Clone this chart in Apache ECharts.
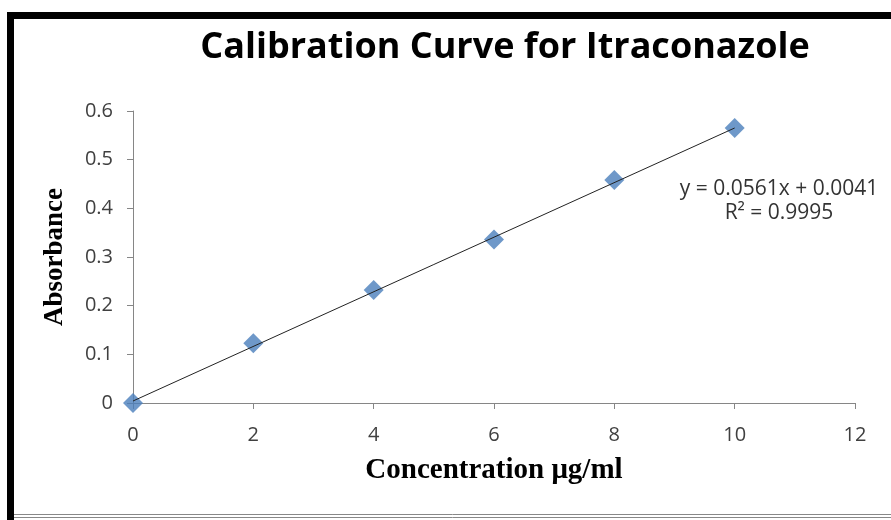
<!DOCTYPE html>
<html>
<head>
<meta charset="utf-8">
<script src="https://cdn.jsdelivr.net/npm/echarts@6/dist/echarts.min.js"></script>
<style>
  html, body { margin: 0; padding: 0; background: #fff; }
  #chart { width: 891px; height: 520px; }
</style>
</head>
<body>
<div id="chart"></div>
<script>
// measured points
const concentration = [0, 2, 4, 6, 8, 10];
const absorbance = [0, 0.123, 0.232, 0.336, 0.458, 0.565];
// linear trendline endpoints (y = 0.0561x + 0.0041)
const trendX = [0, 10];
const trendY = [0.0041, 0.5651];
const equationLines = ['y = 0.0561x + 0.0041', 'R² = 0.9995'];

const chart = echarts.init(document.getElementById('chart'));

const axisGray = '#868686';
const labelColor = '#404040';

const option = {
  backgroundColor: '#fff',
  animation: false,
  title: {
    text: 'Calibration Curve for Itraconazole',
    left: 500,
    textAlign: 'center',
    top: 25,
    textStyle: { fontFamily: 'Open Sans', fontWeight: 'bold', fontSize: 36, color: '#000' }
  },
  grid: { left: 133, right: 36, top: 111, bottom: 117 },
  xAxis: {
    type: 'value',
    min: 0, max: 12, interval: 2,
    name: 'Concentration μg/ml',
    nameLocation: 'middle',
    nameGap: 53,
    nameTextStyle: { fontFamily: 'Liberation Serif', fontWeight: 'bold', fontSize: 29, color: '#000' },
    axisLine: { lineStyle: { color: axisGray } },
    axisTick: { show: true, length: 6, lineStyle: { color: axisGray } },
    axisLabel: { color: labelColor, fontSize: 20, fontFamily: 'Open Sans', margin: 22 },
    splitLine: { show: false }
  },
  yAxis: {
    type: 'value',
    min: 0, max: 0.6, interval: 0.1,
    name: 'Absorbance',
    nameLocation: 'middle',
    nameGap: 64,
    nameTextStyle: { fontFamily: 'Liberation Serif', fontWeight: 'bold', fontSize: 27, color: '#000' },
    axisLine: { show: true, lineStyle: { color: axisGray } },
    axisTick: { show: true, length: 6, lineStyle: { color: axisGray } },
    axisLabel: { color: labelColor, fontSize: 20, fontFamily: 'Open Sans', margin: 20 },
    splitLine: { show: false }
  },
  series: [
    {
      name: 'Trendline',
      type: 'line',
      data: trendX.map((x, i) => [x, trendY[i]]),
      showSymbol: false,
      lineStyle: { color: '#222', width: 1 },
      z: 3
    },
    {
      name: 'Absorbance',
      type: 'scatter',
      data: concentration.map((x, i) => [x, absorbance[i]]),
      symbol: 'diamond',
      symbolSize: [20, 20],
      itemStyle: { color: '#4a7ebb' },
      z: 2
    }
  ],
  graphic: [
    // outer chart frame (black top and left, gray bottom)
    { type: 'rect', shape: { x: 7, y: 12, width: 884, height: 7 }, style: { fill: '#000' } },
    { type: 'rect', shape: { x: 7, y: 12, width: 7, height: 508 }, style: { fill: '#000' } },
    { type: 'line', shape: { x1: 14, y1: 514.5, x2: 891, y2: 514.5 }, style: { stroke: '#888', lineWidth: 1 } },
    { type: 'line', shape: { x1: 14, y1: 517.5, x2: 891, y2: 517.5 }, style: { stroke: '#888', lineWidth: 1 } },
    {
      type: 'text', x: 779, y: 179,
      style: { text: equationLines[0], align: 'center', font: '21px "Open Sans"', fill: '#333' }
    },
    {
      type: 'text', x: 779, y: 203,
      style: { text: equationLines[1], align: 'center', font: '21px "Open Sans"', fill: '#333' }
    }
  ]
};

chart.setOption(option);
</script>
</body>
</html>
